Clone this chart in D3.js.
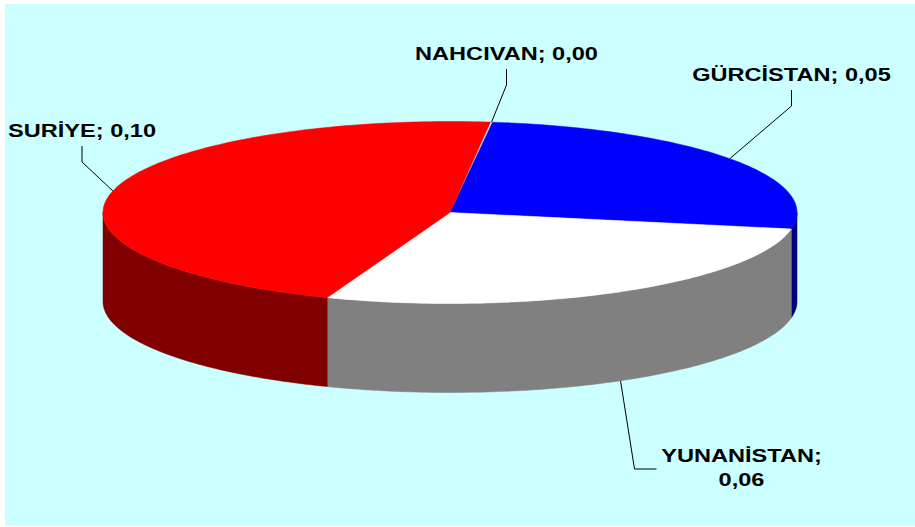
<!DOCTYPE html>
<html>
<head>
<meta charset="utf-8">
<script src="https://cdn.jsdelivr.net/npm/d3@7"></script>
<style>
  html, body { margin: 0; padding: 0; background: #fff; }
  #chart { width: 915px; height: 527px; }
  text { font-family: "Liberation Sans", Arial, sans-serif; font-weight: bold; }
</style>
</head>
<body>
<div id="chart"></div>
<script>
// data (labels show them rounded)
const categories = ['NAHCIVAN', 'GÜRCİSTAN', 'YUNANİSTAN', 'SURİYE'];
const values = [0.0002, 0.054, 0.058, 0.096];

const topColors = ['#FF00FF', '#0000FF', '#FFFFFF', '#FF0000'];
const sideColors = ['#800080', '#000080', '#808080', '#800000'];

// label layout: text centre / baseline and how the leader runs
const labelLayout = [
  {x: 506.5, y: 60, lines: 1, leader: 'down'},
  {x: 791.5, y: 81, lines: 1, leader: 'down'},
  {x: 741.5, y: 462, lines: 2, leader: 'left'},
  {x: 82, y: 137, lines: 1, leader: 'down'}
];

const W = 915, H = 527;
const cx = 450, cy = 212.5, rx = 347, ry = 91, depth = 89;
const firstSliceAngle = 6.7; // degrees, clockwise from 12 o'clock
const rad = d => d * Math.PI / 180;

const locale = d3.formatLocale({decimal: ',', thousands: '.', grouping: [3], currency: ['', '']});
const fmt = locale.format('.2f');

const data = categories.map((c, i) => ({name: c, value: values[i], i}));

const pie = d3.pie()
  .value(d => d.value)
  .sort(null)
  .startAngle(rad(firstSliceAngle))
  .endAngle(rad(firstSliceAngle + 360));
const arcs = pie(data);

// point on the ellipse, a measured clockwise from top
const pt = (a, dz) => [cx + rx * Math.sin(a), cy - ry * Math.cos(a) + (dz || 0)];
const sample = (a0, a1, dz) => {
  const n = Math.max(2, Math.ceil(Math.abs(a1 - a0) / rad(1)));
  return d3.range(n + 1).map(k => pt(a0 + (a1 - a0) * k / n, dz));
};

const svg = d3.select('#chart').append('svg')
  .attr('width', W)
  .attr('height', H);

svg.append('rect')
  .attr('x', 5).attr('y', 4)
  .attr('width', W - 5).attr('height', H - 5)
  .attr('fill', '#CCFFFF');

const line = d3.line();

// side walls: only the front half (90°..270°) is visible
const sides = svg.append('g').attr('class', 'sides');
arcs.forEach(a => {
  [0, 2 * Math.PI].forEach(off => {
    const s = Math.max(a.startAngle, rad(90) + off);
    const e = Math.min(a.endAngle, rad(270) + off);
    if (e <= s) return;
    const topEdge = sample(s, e, 0);
    const botEdge = sample(e, s, depth);
    sides.append('path')
      .attr('d', line(topEdge.concat(botEdge)) + 'Z')
      .attr('fill', sideColors[a.data.i])
      .attr('stroke', sideColors[a.data.i])
      .attr('stroke-width', 0.5);
  });
});

// top faces
const tops = svg.append('g').attr('class', 'tops');
arcs.forEach(a => {
  if (a.endAngle - a.startAngle < rad(0.5)) return;
  const pts = [[cx, cy]].concat(sample(a.startAngle, a.endAngle, 0));
  tops.append('path')
    .attr('d', line(pts) + 'Z')
    .attr('fill', topColors[a.data.i])
    .attr('stroke', topColors[a.data.i])
    .attr('stroke-width', 0.5);
});

// labels + leader lines
const labels = svg.append('g').attr('class', 'labels');
arcs.forEach(a => {
  const L = labelLayout[a.data.i];
  const mid = (a.startAngle + a.endAngle) / 2;
  const front = Math.cos(mid) < 0;
  const anchor = pt(mid, front ? depth : 0);
  const txt = a.data.name + '; ' + fmt(a.data.value);

  const g = labels.append('g')
    .attr('transform', `translate(${L.x},${L.y}) scale(1.31,1)`);
  if (L.lines === 1) {
    g.append('text')
      .attr('text-anchor', 'middle')
      .attr('font-size', 18)
      .attr('fill', '#000')
      .text(txt);
  } else {
    const parts = [a.data.name + ';', fmt(a.data.value)];
    parts.forEach((p, k) => {
      g.append('text')
        .attr('text-anchor', 'middle')
        .attr('y', k * 24)
        .attr('font-size', 18)
        .attr('fill', '#000')
        .text(p);
    });
  }

  let pts;
  if (L.leader === 'down') {
    pts = [[L.x, L.y + 9], [L.x, L.y + 25], anchor];
  } else {
    const left = L.x - 81;
    pts = [[left - 4, L.y + 7], [left - 26, L.y + 7], anchor];
  }
  labels.append('path')
    .attr('d', line(pts))
    .attr('fill', 'none')
    .attr('stroke', '#000')
    .attr('stroke-width', 1);
});
</script>
</body>
</html>
